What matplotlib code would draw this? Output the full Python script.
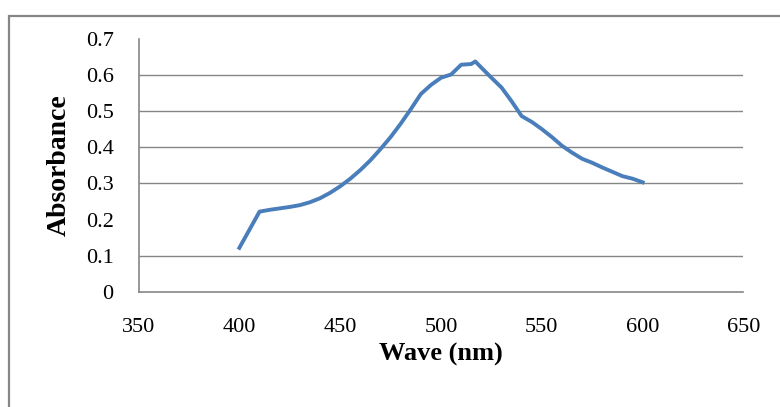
import matplotlib.pyplot as plt
from matplotlib.patches import Rectangle

# absorbance spectrum, values
wave = [400, 410, 415, 420, 425, 430, 435, 440, 445, 450, 455, 460, 465, 470,
        475, 480, 485, 490, 495, 500, 505, 510, 515, 517, 520, 525, 530, 535,
        540, 545, 550, 555, 560, 565, 570, 575, 580, 585, 590, 595, 600]
absorbance = [0.122, 0.222, 0.227, 0.231, 0.235, 0.240, 0.248, 0.259, 0.274,
              0.292, 0.313, 0.337, 0.364, 0.395, 0.428, 0.465, 0.505, 0.547,
              0.572, 0.592, 0.601, 0.628, 0.630, 0.637, 0.620, 0.592, 0.565,
              0.527, 0.486, 0.470, 0.450, 0.428, 0.404, 0.385, 0.368, 0.357,
              0.344, 0.332, 0.320, 0.313, 0.303]

x_ticks = [350, 400, 450, 500, 550, 600, 650]
y_ticks = [0, 0.1, 0.2, 0.3, 0.4, 0.5, 0.6, 0.7]
y_tick_labels = ["0", "0.1", "0.2", "0.3", "0.4", "0.5", "0.6", "0.7"]
grid_levels = [0.1, 0.3, 0.4, 0.5, 0.6]   # the 0.2 line is not drawn in the original

GRAY = "#868686"
BLUE = "#4a7ebb"

plt.rcParams["font.family"] = ["Liberation Serif", "DejaVu Serif"]

fig = plt.figure(figsize=(7.8, 4.07), dpi=100)
ax = fig.add_axes([0.1776, 0.2826, 0.7756, 0.6224])

# outer chart border (cut off on the right and bottom, as in the picture)
fig.patches.append(Rectangle((0.011, -0.05), 1.2, 0.011 + 0.05 + 0.95,
                             transform=fig.transFigure, fill=False,
                             edgecolor=GRAY, linewidth=1.6))

for g in grid_levels:
    ax.axhline(g, color=GRAY, linewidth=1.0, zorder=1)

ax.plot(wave, absorbance, color=BLUE, linewidth=2.8, zorder=3,
        solid_joinstyle="round")

ax.set_xlim(350, 650)
ax.set_ylim(0, 0.7)
ax.set_xticks(x_ticks)
ax.set_yticks(y_ticks)
ax.set_yticklabels(y_tick_labels)
ax.tick_params(axis="both", length=0, labelsize=16, colors="black")
ax.tick_params(axis="y", pad=18)
ax.tick_params(axis="x", pad=19)

for side in ["top", "right"]:
    ax.spines[side].set_visible(False)
for side in ["left", "bottom"]:
    ax.spines[side].set_color(GRAY)
    ax.spines[side].set_linewidth(1.2)

ax.set_xlabel("Wave (nm)", fontsize=19, fontweight="bold", labelpad=4)
ax.set_ylabel("Absorbance", fontsize=20, fontweight="bold", labelpad=10)

fig.savefig("out.png", dpi=100)
